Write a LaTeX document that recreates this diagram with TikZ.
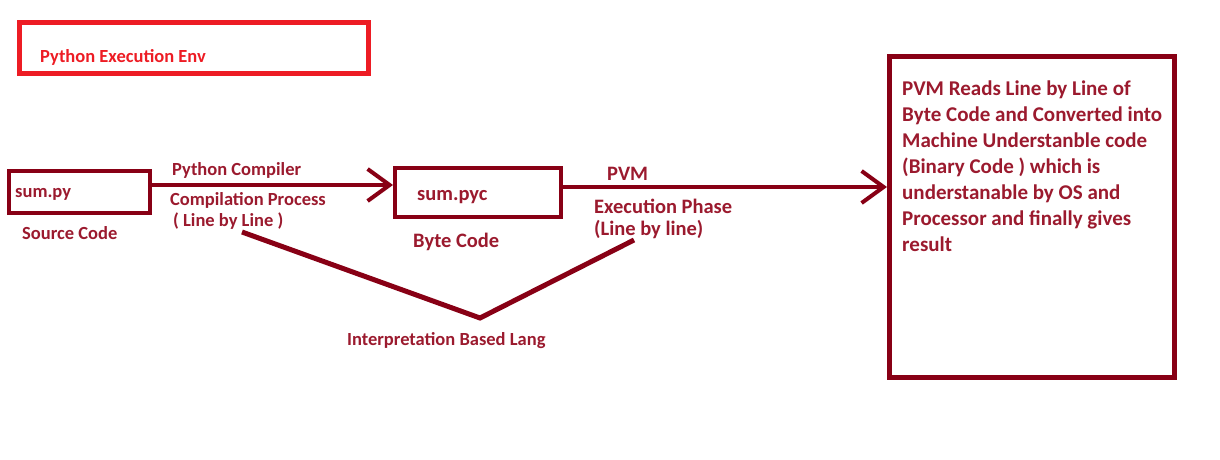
\documentclass[tikz,border=0pt]{standalone}
\usepackage{fontspec}
\setmainfont{Carlito}
\usetikzlibrary{arrows.meta,positioning}
\definecolor{maroon}{RGB}{136,0,21}
\definecolor{labelred}{RGB}{155,26,46}
\definecolor{envred}{RGB}{237,28,36}
\tikzset{
	filebox/.style = {draw = maroon, line width = 4pt, inner sep = 0pt},
	lbl/.style = {text = labelred, inner sep = 0pt, anchor = base west,
		font = \bfseries\fontsize{18.5}{22}\selectfont},
	biglbl/.style = {lbl, font = \bfseries\fontsize{20.5}{26}\selectfont},
	flow/.style = {draw = maroon, line width = 4pt,
		-{Straight Barb[length = 22pt, width = 32pt]}},
	vline/.style = {draw = maroon, line width = 5pt}
}
\begin{document}
\begin{tikzpicture}[x = 1pt, y = -1pt]
	\useasboundingbox (0,0) rectangle (1220,460);
	% environment title
	\node[filebox, draw = envred, line width = 5pt, minimum width = 349pt, minimum height = 50pt] (env) at (193.5,48) {};
	\node[lbl, text = envred] (envtxt) at (40,62.3) {Python Execution Env};
	% source file
	\node[filebox, minimum width = 141pt, minimum height = 42pt] (src) at (79.5,192) {};
	\node[lbl] (srctxt) at (15,197) {sum.py};
	\node[lbl] (srclbl) at (22,239) {Source Code};
	% byte code file
	\node[filebox, minimum width = 166pt, minimum height = 49pt] (pyc) at (478,192.5) {};
	\node[biglbl] (pyctxt) at (417,200) {sum.pyc};
	\node[biglbl] (pyclbl) at (413,247.7) {Byte Code};
	% result box (base = last line)
	\node[filebox, line width = 5pt, minimum width = 285pt, minimum height = 321pt] (res) at (1032,217) {};
	\node[biglbl, align = left, font = \bfseries\fontsize{21}{26}\selectfont] (restxt) at (902,251.7)
		{PVM Reads Line by Line of\\
		Byte Code and Converted into\\
		Machine Understanble code\\
		(Binary Code ) which is\\
		understanable by OS and\\
		Processor and finally gives\\
		result};
	% compiler step
	\draw[flow] ([yshift = 7pt]src.east) -- ([yshift = 7pt]src.east -| pyc.west);
	\node[lbl] (cmp) at (172,175) {Python Compiler};
	\node[lbl] (cmpproc) at (170,205.7) {Compilation Process};
	\node[lbl] (cmpline) at (173,226) {( Line by Line )};
	% execution step
	\draw[flow] ([yshift = 5.5pt]pyc.east) -- ([yshift = 5.5pt]pyc.east -| res.west);
	\node[biglbl] (pvm) at (607,180.7) {PVM};
	\node[biglbl] (exe) at (594,213.3) {Execution Phase};
	\node[biglbl] (exeline) at (594,235) {(Line by line)};
	% interpretation
	\coordinate (cmpend) at (242,232);
	\coordinate (exeend) at (634,240);
	\coordinate (vtip) at (480,318);
	\draw[vline] (cmpend) -- (vtip) -- (exeend);
	\node[lbl] (interp) at (347,345) {Interpretation Based Lang};
\end{tikzpicture}
\end{document}
